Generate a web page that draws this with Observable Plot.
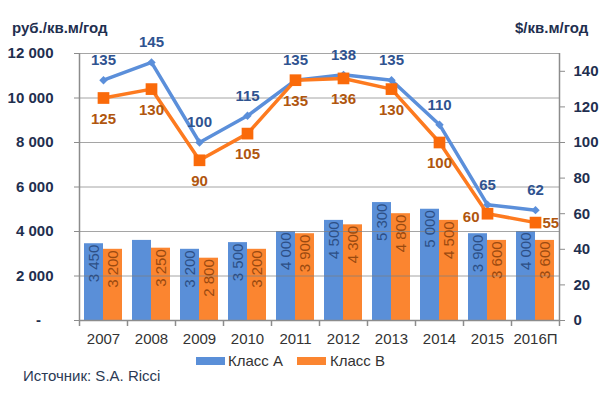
<!DOCTYPE html>
<html><head><meta charset="utf-8">
<script src="https://cdn.jsdelivr.net/npm/d3@7"></script>
<script src="https://cdn.jsdelivr.net/npm/@observablehq/plot@0.6"></script>
<style>
body{margin:0;background:#fff;font-family:"Liberation Sans",Arial,sans-serif}
#wrap{position:relative;width:600px;height:408px;overflow:hidden}
.t{position:absolute;white-space:nowrap;font-size:15px;line-height:15px}
.sw{position:absolute;height:8px}
</style></head><body>
<div id="wrap"></div>
<script>
const years = ["2007","2008","2009","2010","2011","2012","2013","2014","2015","2016П"];
const barA = [3450,3600,3200,3500,4000,4500,5300,5000,3900,4000];
const barB = [3200,3250,2800,3200,3900,4300,4800,4500,3600,3600];
const barLabelA = ["3 450",null,"3 200","3 500","4 000","4 500","5 300","5 000","3 900","4 000"];
const barLabelB = ["3 200","3 250","2 800","3 200","3 900","4 300","4 800","4 500","3 600","3 600"];
const rentA = [135,145,100,115,135,138,135,110,65,62];
const rentB = [125,130,90,105,135,136,130,100,60,55];
const leftTicks = [0,2000,4000,6000,8000,10000,12000];
const rightTicks = [0,20,40,60,80,100,120,140];
const seriesNames = ["Класс А","Класс В"];
const leftTitle = "руб./кв.м/год";
const rightTitle = "$/кв.м/год";
const source = "Источник: S.A. Ricci";

const K = 12000/150;
const BLUE = "#5a8fd8", ORANGE = "#fb8530", BLUE_L = "#5b8fda", ORANGE_L = "#fd7a1f", ORANGE_M = "#fa6a0a";
const NAVY = "#1f2f4f";
const fmt = d3.formatLocale({thousands:"\u00a0", grouping:[3], decimal:","}).format(",d");

const rows = years.map((y,i)=>({year:y, i, a:barA[i], b:barB[i], la:barLabelA[i], lb:barLabelB[i],
  ra:rentA[i]*K, rb:rentB[i]*K, va:String(rentA[i]), vb:String(rentB[i])}));

const chart = Plot.plot({
  width:600, height:408, marginLeft:79, marginRight:41, marginTop:53, marginBottom:88,
  style:{fontFamily:'"Liberation Sans",Arial,sans-serif', background:"transparent"},
  x:{type:"band", domain:years, padding:0, axis:null},
  y:{domain:[0,12000], axis:null},
  marks:[
    Plot.barY(rows,{x:"year", y:"a", fill:BLUE, insetLeft:5, insetRight:24}),
    Plot.barY(rows,{x:"year", y:"b", fill:ORANGE, insetLeft:24, insetRight:5}),
    Plot.gridY(leftTicks.slice(1), {stroke:"#7f7f7f", strokeOpacity:0.7, strokeWidth:1}),
    Plot.ruleY([0], {stroke:"#8c8c8c", strokeWidth:1.5}),
    Plot.ruleX(years,{x:d=>d, dx:-24, y1:0, y2:0, insetBottom:-6, stroke:"#8c8c8c", strokeWidth:1.5}),
    Plot.ruleX([years[years.length-1]],{x:d=>d, dx:24, y1:0, y2:0, insetBottom:-6, stroke:"#8c8c8c", strokeWidth:1.5}),
    Plot.ruleX([years[0]],{x:d=>d, dx:-24, stroke:"#8c8c8c", strokeWidth:1.5}),
    Plot.ruleX([years[years.length-1]],{x:d=>d, dx:24, stroke:"#8c8c8c", strokeWidth:1.5}),
    Plot.axisY({anchor:"left", ticks:leftTicks, tickFormat:d=>d===0?"-\u00a0\u00a0\u00a0":fmt(d), tickSize:5, tickPadding:21,
      stroke:"#8c8c8c", fill:NAVY, fontSize:15, fontWeight:"bold", label:null}),
    Plot.axisY({anchor:"right", ticks:rightTicks.map(v=>v*K), tickFormat:d=>String(Math.round(d/K)), tickSize:5, tickPadding:9,
      stroke:"#8c8c8c", fill:NAVY, fontSize:15, fontWeight:"bold", label:null}),
    Plot.axisX({ticks:years, tickSize:0, tickPadding:13, fill:"#333", fontSize:15, label:null}),
    Plot.text(rows.filter(d=>d.la),{x:"year", y:"a", text:"la", rotate:-90, textAnchor:"end", dx:-9.5, dy:1, fill:"#2d4f86", fontSize:15}),
    Plot.text(rows.filter(d=>d.lb),{x:"year", y:"b", text:"lb", rotate:-90, textAnchor:"end", dx:9.5, dy:1, fill:"#9a4a10", fontSize:15}),
    Plot.line(rows,{x:"year", y:"ra", stroke:BLUE_L, strokeWidth:3.5}),
    Plot.line(rows,{x:"year", y:"rb", stroke:ORANGE_L, strokeWidth:3.5}),
    Plot.dot(rows,{x:"year", y:"ra", symbol:"diamond2", fill:BLUE_L, stroke:null, r:3.8}),
    Plot.dot(rows,{x:"year", y:"rb", symbol:"square", fill:ORANGE_M, stroke:null, r:6.6}),
    Plot.text(rows,{x:"year", y:"ra", text:"va", dy:-20, fill:"#2f5390", fontSize:15, fontWeight:"bold"}),
    Plot.text(rows.filter(d=>d.i<8),{x:"year", y:"rb", text:"vb", dy:21, fill:"#b0560e", fontSize:15, fontWeight:"bold"}),
    Plot.text(rows.filter(d=>d.i===8),{x:"year", y:"rb", text:"vb", dx:-8, dy:3, textAnchor:"end", fill:"#b0560e", fontSize:15, fontWeight:"bold"}),
    Plot.text(rows.filter(d=>d.i===9),{x:"year", y:"rb", text:"vb", dx:7, dy:1, textAnchor:"start", fill:"#b0560e", fontSize:15, fontWeight:"bold"})
  ]
});
const wrap = document.getElementById("wrap");
wrap.appendChild(chart);
function addText(txt, left, top, style){
  const d = document.createElement("div"); d.className="t"; d.textContent = txt;
  d.style.left = left+"px"; d.style.top = top+"px"; Object.assign(d.style, style||{}); wrap.appendChild(d);
}
function addSwatch(color, left, top, w){
  const d = document.createElement("div"); d.className="sw"; d.style.background=color;
  d.style.left=left+"px"; d.style.top=top+"px"; d.style.width=w+"px"; wrap.appendChild(d);
}
addText(leftTitle, 12, 20, {fontWeight:"bold", color:NAVY});
addText(rightTitle, 515, 20, {fontWeight:"bold", color:NAVY});
addSwatch(BLUE, 196, 357, 29);
addText(seriesNames[0], 228, 353, {color:"#333"});
addSwatch(ORANGE, 297, 357, 29);
addText(seriesNames[1], 330, 353, {color:"#333"});
addText(source, 23, 368, {color:"#2b3a55"});
</script>
</body></html>
